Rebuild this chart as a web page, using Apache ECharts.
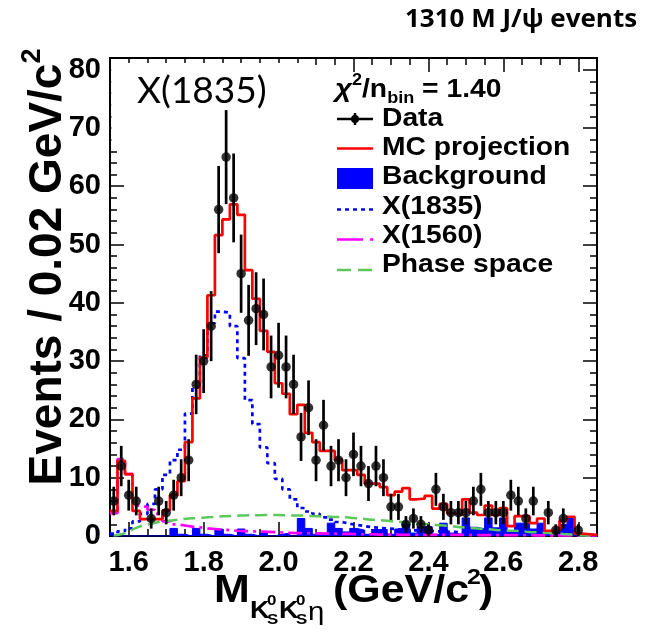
<!DOCTYPE html>
<html><head><meta charset="utf-8">
<script src="https://cdn.jsdelivr.net/npm/echarts@6/dist/echarts.min.js"></script>
<style>html,body{margin:0;padding:0;background:#fff}#c{width:652px;height:633px}</style>
</head><body><div id="c"></div>
<script>
// ---------- data ----------
const binCenters = [
 1.56,1.58,1.60,1.62,1.64,1.66,1.68,1.70,1.72,1.74,
 1.76,1.78,1.80,1.82,1.84,1.86,1.88,1.90,1.92,1.94,
 1.96,1.98,2.00,2.02,2.04,2.06,2.08,2.10,2.12,2.14,
 2.16,2.18,2.20,2.22,2.24,2.26,2.28,2.30,2.32,2.34,
 2.36,2.38,2.40,2.42,2.44,2.46,2.48,2.50,2.52,2.54,
 2.56,2.58,2.60,2.62,2.64,2.66,2.68,2.70,2.72,2.74,
 2.76,2.78,2.80,2.82,2.84];
const dataCounts = [
 6,12,7,6,null,3,6,4,7,10,
 13,26,30,36,56,65,58,45,37,39,
 38,29,31,29,26,17,22,13,19,12,
 13,10,14,12,9,12,10,5,5,2,
 3,2,1,8,5,4,4,4,6,8,
 4,4,4,7,6,3,6,null,4,1,
 3,null,1,null,null];
const mcProjection = [
 4.3,12.9,10.6,4.3,2.9,2.9,2.9,4.4,7.0,9.4,
 16.1,23.6,30.6,41.3,51.6,54.3,56.9,55.1,45.6,40.7,
 35.2,31.6,26.2,24.4,20.9,22.5,17.7,16.1,14.6,14.6,
 13.1,11.3,11.3,10.5,9.0,9.0,8.4,7.0,7.6,8.2,
 6.3,6.4,6.9,4.7,5.5,3.9,3.6,6.3,4.0,3.6,
 5.2,3.6,4.8,1.7,3.4,3.4,2.2,3.0,0.9,0.9,
 2.6,3.3,0.4,0.3,0.2];
const background = [
 0,0,0,0,0,0,0,0,1.3,0.3,
 0,1.3,0.3,0,1.2,0.3,0,1.2,0.3,0,
 0.5,0,0.3,0.5,0,3.0,1.3,0.3,0.3,2.2,
 1.3,0.7,1.3,1.0,0.3,1.1,1.1,0.3,1.2,2.2,
 0.5,1.6,1.6,0.3,2.2,0.5,0.3,3.1,1.5,1.2,
 3.1,1.4,3.1,0.9,2.2,2.2,1.2,2.2,0.6,0.6,
 2.0,3.1,0,0,0];
const x1835 = [
 0.4,0.8,1.3,2.5,3.8,5.5,8.0,10.5,13.0,14.8,
 21.0,25.5,31.0,36.5,38.5,38.3,36.0,30.5,23.3,19.2,
 15.2,12.5,9.8,8.0,6.3,4.8,4.2,3.8,3.2,2.8,
 2.4,2.1,1.9,1.7,1.5,1.4,1.3,1.2,1.1,1.0,
 0.95,0.9,0.85,0.8,0.75,0.7,0.65,0.6,0.57,0.54,
 0.5,0.47,0.44,0.41,0.38,0.36,0.34,0.32,0.3,0.28,
 0.26,0.24,0.22,0.2,0.18];
const x1560 = [
 3.9,13.2,10.6,5.2,5.0,4.5,3.8,2.5,2.0,1.8,
 1.6,1.5,1.3,1.2,1.1,1.0,0.9,0.85,0.8,0.75,
 0.7,0.65,0.6,0.55,0.5,0.5,0.45,0.45,0.4,0.4,
 0.35,0.35,0.3,0.3,0.3,0.25,0.25,0.25,0.2,0.2,
 0.2,0.2,0.2,0.2,0.18,0.18,0.18,0.16,0.16,0.16,
 0.15,0.15,0.14,0.14,0.13,0.13,0.12,0.12,0.12,0.11,
 0.11,0.1,0.1,0.1,0.1];
const phaseSpace = [
 0.1,0.3,0.8,1.4,1.8,2.1,2.4,2.6,2.7,2.85,
 3.0,3.05,3.15,3.25,3.35,3.4,3.45,3.5,3.55,3.55,
 3.6,3.6,3.6,3.55,3.5,3.5,3.45,3.4,3.35,3.3,
 3.25,3.2,3.1,3.0,2.85,2.75,2.65,2.55,2.45,2.35,
 2.2,2.1,2.0,1.9,1.8,1.7,1.55,1.45,1.35,1.25,
 1.15,1.05,0.95,0.9,0.85,0.75,0.65,0.6,0.5,0.45,
 0.35,0.25,0.15,0.08,0.03];
const xMajorTicks = [1.6,1.8,2.0,2.2,2.4,2.6,2.8];
const xMinorTicks = [1.55,1.6,1.65,1.7,1.75,1.8,1.85,1.9,1.95,2.0,2.05,2.1,2.15,2.2,2.25,2.3,2.35,2.4,2.45,2.5,2.55,2.6,2.65,2.7,2.75,2.8,2.85];
const legendLabels = ['Data','MC projection','Background','X(1835)','X(1560)','Phase space'];
const chi2Text = '1.40';
const titleText = '1310 M J/\u03c8 events';
const resonanceLabel = 'X(1835)';

// ---------- helpers ----------
const HALF_BIN = 0.01;
function histEdges(vals){
  const out = binCenters.map((c,i)=>[+(c-HALF_BIN).toFixed(3), vals[i]]);
  const n = binCenters.length-1;
  out.push([+(binCenters[n]+HALF_BIN).toFixed(3), vals[n]]);
  return out;
}
const pts = [], errs = [];
binCenters.forEach((c,i)=>{
  const v = dataCounts[i];
  if (v === null) return;
  pts.push([c, v]);
  const e = Math.sqrt(v);
  errs.push([c, v, v-e, v+e]);
});

const FONT = '"Liberation Sans", Arial, Helvetica, sans-serif';
const BLUE = '#0000ff', RED = '#ff0000', MAG = '#ff00ff', GREEN = '#5cc85c';

const axisLineStyle = {color:'#000', width:2};
function xAxisDef(pos, ticks, len, labels){
  return {
    type:'value', min:1.55, max:2.85, position:pos, gridIndex:0,
    axisLine:{show:true, onZero:false, lineStyle:axisLineStyle},
    splitLine:{show:false},
    axisTick:{show:true, inside:true, length:len, customValues:ticks, lineStyle:{color:'#000', width:1.5}},
    axisLabel: labels ? {show:true, customValues:xMajorTicks, formatter:v=>v.toFixed(1),
      fontSize:29, fontWeight:'bold', fontFamily:FONT, color:'#000', margin:12} : {show:false}
  };
}
function yAxisDef(pos, labels){
  return {
    type:'value', min:0, max:82, interval:10, position:pos, gridIndex:0,
    axisLine:{show:true, onZero:false, lineStyle:axisLineStyle},
    splitLine:{show:false},
    axisTick:{show:true, inside:true, length:14, lineStyle:{color:'#000', width:1.5}},
    minorTick:{show:true, splitNumber:5, length:7, lineStyle:{color:'#000', width:1.5}},
    axisLabel: labels ? {show:true, fontSize:29, fontWeight:'bold', fontFamily:FONT, color:'#000', margin:9} : {show:false}
  };
}

function stepSeries(name, vals, color, dash, z, area){
  const s = {
    name, type:'line', step:'end', data:histEdges(vals), xAxisIndex:0, yAxisIndex:0,
    symbol:'none', z, silent:true, clip:true,
    lineStyle:{color, width: area ? 1 : 2.7, type: dash || 'solid'}
  };
  if (area) s.areaStyle = {color, opacity:1};
  return s;
}

// legend positions (pixels)
const LX0 = 337, LX1 = 373, LTX = 382;
const legendTextY = [119,148.5,177.5,207,236,265.5];
const TS = 1.13; // horizontal text stretch of the original figure

const g = [];
// white box behind the "X(1835)" label
g.push({type:'rect', shape:{x:111.5, y:63, width:98, height:84}, style:{fill:'#fff'}, z:90});
g.push({type:'rect', shape:{x:111.5, y:63, width:190, height:47}, style:{fill:'#fff'}, z:90});
g.push({type:'text', x:137, y:91, z:100, style:{text:resonanceLabel, font:'37px Lato, "Open Sans", sans-serif', fill:'#000', textAlign:'left', textVerticalAlign:'middle'}});
// title
g.push({type:'text', x:405, y:20, scaleX:1.04, z:100, style:{text:titleText, font:'bold 25px "Open Sans", Lato, sans-serif', fill:'#000', textAlign:'left', textVerticalAlign:'middle'}});
// chi2 line
g.push({type:'text', x:335, y:90, scaleX:TS, z:100, style:{
  text:'{g|\u03c7}{sup|2}{t|/n}{sub|bin}{t| = '+chi2Text+'}', textAlign:'left', textVerticalAlign:'middle',
  rich:{
    g:{fontSize:26, fontFamily:FONT, fontStyle:'italic', fontWeight:'bold', fill:'#000', lineHeight:34, verticalAlign:'middle'},
    t:{fontSize:25, fontFamily:FONT, fontWeight:'bold', fill:'#000', lineHeight:34, verticalAlign:'middle'},
    sup:{fontSize:16, fontFamily:FONT, fontWeight:'bold', fill:'#000', lineHeight:34, verticalAlign:'top'},
    sub:{fontSize:16, fontFamily:FONT, fontWeight:'bold', fill:'#000', lineHeight:34, verticalAlign:'bottom'}
  }}});
legendLabels.forEach((t,i)=>{
  g.push({type:'text', x:LTX, y:legendTextY[i], scaleX:TS, z:100, style:{text:t, font:'bold 25px '+FONT, fill:'#000', textAlign:'left', textVerticalAlign:'middle'}});
});
// legend symbols
g.push({type:'line', z:100, shape:{x1:LX0,y1:119,x2:LX1,y2:119}, style:{stroke:'#000', lineWidth:2.5}});
g.push({type:'line', z:100, shape:{x1:355,y1:113,x2:355,y2:125}, style:{stroke:'#000', lineWidth:2.5}});
g.push({type:'circle', z:101, shape:{cx:355, cy:119, r:4}, style:{fill:'#000'}});
g.push({type:'line', z:100, shape:{x1:LX0,y1:148.5,x2:LX1,y2:148.5}, style:{stroke:RED, lineWidth:2.5}});
g.push({type:'rect', z:100, shape:{x:LX0,y:168,width:LX1-LX0,height:21}, style:{fill:BLUE}});
g.push({type:'line', z:100, shape:{x1:LX0,y1:209.5,x2:LX1,y2:209.5}, style:{stroke:BLUE, lineWidth:2.5, lineDash:[4,4]}});
g.push({type:'line', z:100, shape:{x1:LX0,y1:239.5,x2:LX1,y2:239.5}, style:{stroke:MAG, lineWidth:2.5, lineDash:[26,7,3,20]}});
g.push({type:'line', z:100, shape:{x1:LX0,y1:270,x2:LX1,y2:270}, style:{stroke:GREEN, lineWidth:2.5, lineDash:[14,7]}});
// y axis title (rotated)
g.push({type:'text', x:45, y:267, rotation:Math.PI/2, z:100, style:{
  text:'{a|Events / 0.02 GeV/c}{s|2}', textAlign:'center', textVerticalAlign:'middle',
  rich:{a:{fontSize:46, fontFamily:FONT, fontWeight:'bold', fill:'#000', lineHeight:52, verticalAlign:'bottom'},
        s:{fontSize:27, fontFamily:FONT, fontWeight:'bold', fill:'#000', lineHeight:52, verticalAlign:'top'}}}});
// x axis title pieces
function xt(text, x, y, size, weight){
  g.push({type:'text', x, y, scaleX:TS, z:100, style:{text, font:(weight||'bold')+' '+size+'px '+FONT, fill:'#000', textAlign:'left', textVerticalAlign:'middle'}});
}
xt('M', 214, 592, 38);
xt('K', 250, 611, 24);
xt('0', 267, 601, 15);
xt('S', 267, 620, 15);
xt('K', 279, 611, 24);
xt('0', 296, 601, 15);
xt('S', 296, 620, 15);
xt('\u03b7', 308, 613, 26, 'normal');
xt('(GeV/c', 333, 592, 38);
xt('2', 467, 578, 22);
xt(')', 479, 592, 38);

const option = {
  backgroundColor:'#fff',
  animation:false,
  grid:{left:110, top:58, width:487, height:478, containLabel:false, show:false},
  xAxis:[
    xAxisDef('bottom', xMajorTicks, 14, true),
    xAxisDef('bottom', xMinorTicks, 7, false),
    xAxisDef('top', xMajorTicks, 14, false),
    xAxisDef('top', xMinorTicks, 7, false)
  ],
  yAxis:[ yAxisDef('left', true), yAxisDef('right', false) ],
  series:[
    stepSeries('Background', background, BLUE, 'solid', 2, true),
    stepSeries('X(1835)', x1835, BLUE, [4,4], 3),
    stepSeries('X(1560)', x1560, MAG, [14,5,3,5], 3),
    {name:'Phase space', type:'line', data:binCenters.map((c,i)=>[c, phaseSpace[i]]), symbol:'none', smooth:true, z:3,
      lineStyle:{color:GREEN, width:2.5, type:[12,6]}},
    stepSeries('MC projection', mcProjection, RED, 'solid', 4),
    {name:'Data errors', type:'custom', data:errs, z:5, encode:{x:0, y:1},
      renderItem:(params, api)=>{
        const x = api.value(0), p1 = api.coord([x, api.value(2)]), p2 = api.coord([x, api.value(3)]);
        return {type:'line', shape:{x1:p1[0], y1:p1[1], x2:p2[0], y2:p2[1]}, style:{stroke:'#000', lineWidth:2.7}};
      }},
    {name:'Data', type:'scatter', data:pts, symbol:'circle', symbolSize:9.5, z:6, itemStyle:{color:'#000'}}
  ],
  graphic:{elements:g}
};
const chart = echarts.init(document.getElementById('c'));
chart.setOption(option);
</script>
</body></html>
